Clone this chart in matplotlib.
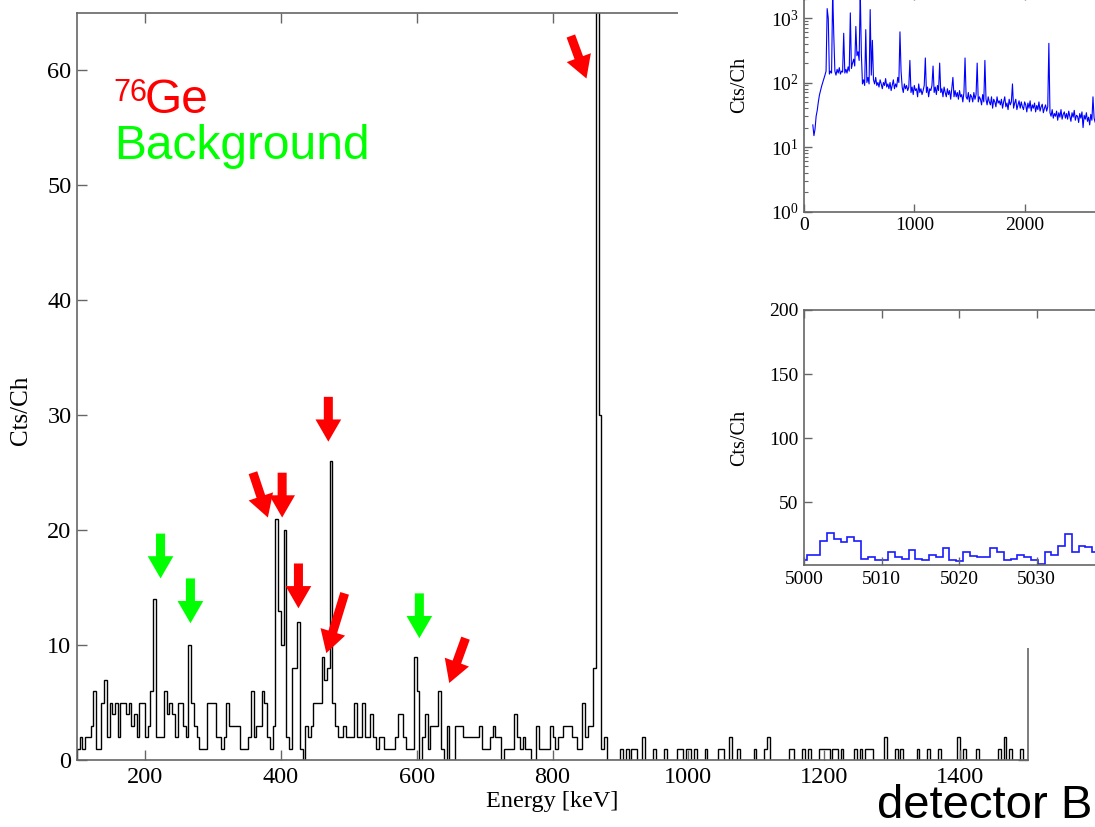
import numpy as np
import matplotlib
matplotlib.use('Agg')
import matplotlib.pyplot as plt
from matplotlib.patches import Rectangle
from matplotlib.ticker import LogLocator, NullFormatter

plt.rcParams['font.family'] = ['Liberation Serif', 'DejaVu Serif']
plt.rcParams['mathtext.fontset'] = 'custom'
plt.rcParams['mathtext.rm'] = 'Liberation Serif'
plt.rcParams['mathtext.it'] = 'Liberation Serif:italic'
plt.rcParams['mathtext.bf'] = 'Liberation Serif:bold'

# ---------------- data ----------------
# main spectrum: 4 keV bins from 100 to 900 keV
main_bin_start = 100
main_bin_width = 4
main_counts_low = [
    1, 2, 1, 2, 2, 3, 6, 1, 1, 5,
    7, 2, 5, 4, 5, 2, 5, 5, 4, 5,
    3, 4, 2, 5, 5, 2, 3, 6, 14, 2,
    2, 2, 6, 4, 5, 4, 2, 5, 5, 3,
    2, 10, 5, 3, 2, 1, 1, 1, 5, 5,
    5, 2, 2, 1, 2, 5, 3, 3, 3, 3,
    1, 1, 1, 2, 6, 2, 3, 3, 6, 5,
    2, 1, 3, 21, 13, 10, 20, 2, 1, 8,
    8, 12, 1, 0, 3, 2, 3, 5, 5, 5,
    9, 7, 8, 26, 5, 3, 2, 2, 3, 2,
    2, 2, 5, 2, 2, 5, 2, 2, 4, 2,
    1, 2, 2, 1, 1, 1, 1, 2, 4, 4,
    2, 1, 1, 1, 9, 6, 0, 2, 4, 1,
    3, 3, 3, 6, 1, 0, 3, 0, 0, 3,
    3, 3, 2, 2, 2, 2, 2, 2, 3, 1,
    1, 1, 2, 3, 2, 2, 0, 1, 1, 1,
    1, 4, 2, 1, 2, 1, 1, 0, 0, 3,
    1, 1, 1, 1, 3, 2, 1, 2, 2, 3,
    3, 3, 2, 2, 1, 1, 5, 2, 3, 3,
    8, 80, 30, 1, 2, 0, 0, 0, 0, 0,
]
# sparse part above 900 keV (bin start energy, counts)
hi_energy = [900, 908, 916, 920, 932, 948, 964, 984, 988, 996, 1000, 1008, 1024,
             1044, 1048, 1060, 1072, 1096, 1112, 1116, 1148, 1152, 1168, 1176,
             1192, 1196, 1200, 1204, 1212, 1216, 1224, 1244, 1252, 1260, 1264,
             1268, 1288, 1304, 1312, 1336, 1352, 1368, 1396, 1404, 1424, 1456,
             1464, 1472, 1488]
hi_counts = [1, 1, 1, 1, 2, 1, 1, 1, 1, 1, 1, 1, 1,
             1, 1, 2, 1, 1, 1, 2, 1, 1, 1, 1,
             1, 1, 1, 1, 1, 1, 1, 1, 1, 1, 1,
             1, 2, 1, 1, 1, 1, 1, 2, 1, 1, 1,
             2, 1, 1]
main_end = 1500

x_ticks_main = [200, 400, 600, 800, 1000, 1200, 1400]
y_ticks_main = [0, 10, 20, 30, 40, 50, 60]

# arrows: (tail E, tail counts, tip E, tip counts)
red_arrows = [
    (359, 25.0, 381, 21.1),
    (402, 25.0, 402, 21.1),
    (426, 17.1, 426, 13.2),
    (470, 31.6, 470, 27.7),
    (494, 14.5, 467, 9.3),
    (672, 10.6, 648, 6.7),
    (827, 63.0, 850, 59.3),
]
green_arrows = [
    (223, 19.7, 223, 15.8),
    (267, 15.8, 267, 11.9),
    (604, 14.5, 604, 10.6),
]

# inset 1: full spectrum, 10 keV channels from 80 keV
full_start = 80
full_width = 10
full_counts = [
    22, 15, 19, 30, 37, 50, 64, 75, 88, 100,
    115, 130, 150, 1400, 990, 135, 150, 140, 2600, 540,
    150, 130, 160, 140, 170, 135, 150, 145, 580, 140,
    160, 140, 175, 150, 1200, 165, 200, 230, 180, 740,
    260, 300, 220, 2600, 280, 95, 110, 90, 660, 100,
    120, 95, 1350, 130, 450, 110, 95, 120, 90, 100,
    85, 110, 95, 80, 100, 90, 115, 85, 95, 80,
    100, 75, 90, 110, 80, 95, 85, 120, 100, 610,
    150, 85, 70, 95, 80, 90, 75, 85, 220, 70,
    85, 65, 90, 75, 80, 60, 95, 70, 80, 65,
    75, 90, 240, 70, 85, 60, 80, 75, 90, 180,
    70, 85, 65, 90, 75, 200, 70, 80, 60, 85,
    70, 60, 80, 65, 75, 55, 80, 120, 60, 75,
    60, 70, 55, 75, 60, 65, 50, 70, 240, 60,
    55, 70, 50, 65, 60, 50, 70, 55, 65, 200,
    50, 60, 55, 45, 65, 50, 220, 55, 45, 60,
    50, 45, 60, 40, 55, 50, 42, 60, 48, 52,
    45, 55, 40, 50, 60, 42, 48, 38, 55, 45,
    50, 95, 40, 48, 55, 38, 45, 52, 40, 50,
    42, 38, 50, 45, 35, 48, 40, 52, 36, 45,
    40, 48, 35, 44, 38, 50, 36, 42, 46, 34,
    40, 45, 36, 42, 405, 34, 30, 38, 28, 33,
    30, 36, 26, 34, 29, 38, 27, 32, 35, 28,
    33, 27, 36, 30, 25, 34, 29, 37, 26, 31,
    30, 24, 33, 28, 35, 20, 31, 27, 34, 25,
    29, 22, 32, 26, 60, 28, 24, 30, 20, 27,
    25, 29, 22,
]

# inset 2: high-energy region, channel width ~0.876 keV
roi_start = 4999.46
roi_width = 0.876
roi_counts = [5, 9, 9, 20, 26, 21, 19, 23, 20, 6, 7, 5, 5, 11, 7, 6, 13, 6, 5, 9,
              7, 14, 5, 4, 11, 8, 7, 7, 14, 11, 5, 6, 9, 7, 5, 2, 11, 9, 16, 25,
              11, 16, 15, 11, 12, 9, 13]

# ---------------- figure ----------------
W, H = 1095, 827
fig = plt.figure(figsize=(W / 100, H / 100), dpi=100)


def fx(px):
    return px / W


def fy(py):
    return 1 - py / H


spine_col = '#666666'

# main axes
ax = fig.add_axes([fx(77), fy(760), fx(1028) - fx(77), fy(13) - fy(760)], zorder=0)
n_hi = int((main_end - main_bin_start) / main_bin_width)
counts = np.zeros(n_hi)
counts[:len(main_counts_low)] = main_counts_low
for e, c in zip(hi_energy, hi_counts):
    counts[int((e - main_bin_start) / main_bin_width)] = c
edges = main_bin_start + main_bin_width * np.arange(n_hi + 1)
ax.stairs(counts, edges, color='black', lw=1.0, baseline=0)
ax.set_xlim(100, 1500)
ax.set_ylim(0, 65)
ax.set_xticks(x_ticks_main)
ax.set_yticks(y_ticks_main)
ax.tick_params(direction='in', length=7, width=1, color=spine_col, top=True,
               right=True, labelsize=17.5)
ax.tick_params(axis='x', pad=5)
ax.tick_params(axis='y', pad=4)
for s in ax.spines.values():
    s.set_color(spine_col)
    s.set_linewidth(1.2)
ax.set_xlabel('Energy [keV]', fontsize=17.5, labelpad=2)
ax.set_ylabel('Cts/Ch', fontsize=18)
ax.yaxis.set_label_coords((32 - 77) / 951, (760 - 410) / 747)

arrow_style = 'simple,head_length=1.6,head_width=1.85,tail_width=0.65'
for (e0, c0, e1, c1) in red_arrows:
    ax.annotate('', xy=(e1, c1), xytext=(e0, c0),
                arrowprops=dict(arrowstyle=arrow_style, mutation_scale=10,
                                color='#ff0000', shrinkA=0, shrinkB=0, lw=0))
for (e0, c0, e1, c1) in green_arrows:
    ax.annotate('', xy=(e1, c1), xytext=(e0, c0),
                arrowprops=dict(arrowstyle=arrow_style, mutation_scale=10,
                                color='#00ff00', shrinkA=0, shrinkB=0, lw=0))

# white area behind insets
fig.add_artist(Rectangle((fx(678), fy(648)), 1 - fx(678), 1 - fy(648) + 0.01,
                         transform=fig.transFigure, facecolor='white',
                         edgecolor='none', zorder=1))

# inset 1 (log)
ax1 = fig.add_axes([fx(804), fy(211.5), 3000 * 0.1103 / W, (211.5 + 7.8) / H], zorder=3)
full_E = full_start + full_width * np.arange(len(full_counts))
ax1.plot(full_E, full_counts, color='#0000ff', lw=0.8)
ax1.set_yscale('log')
ax1.set_xlim(0, 3000)
ax1.set_ylim(1, 10 ** 3.4)
ax1.set_xticks([0, 1000, 2000])
ax1.yaxis.set_major_locator(LogLocator(base=10, numticks=10))
ax1.yaxis.set_minor_locator(LogLocator(base=10, subs=np.arange(2, 10), numticks=20))
ax1.yaxis.set_minor_formatter(NullFormatter())
ax1.tick_params(direction='in', length=6, width=1, color=spine_col, top=True,
                right=True, labelsize=14, pad=4)
ax1.tick_params(which='minor', direction='in', length=3, width=0.8, color=spine_col,
                right=True)
for s in ax1.spines.values():
    s.set_color(spine_col)
    s.set_linewidth(1.2)
ax1.set_ylabel('Cts/Ch', fontsize=14.5)
ax1.yaxis.set_label_coords((749 - 804) / 331, (211.5 - 85) / 219.3)

# inset 2 (linear)
ax2 = fig.add_axes([fx(804), fy(565), 50 * 7.76 / W, (565 - 310) / H], zorder=3)
roi_edges = roi_start + roi_width * np.arange(len(roi_counts) + 1)
ax2.stairs(roi_counts, roi_edges, color='#1a1aff', lw=1.2, baseline=None)
ax2.set_xlim(5000, 5050)
ax2.set_ylim(1, 200)
ax2.set_xticks([5000, 5010, 5020, 5030])
ax2.set_yticks([50, 100, 150, 200])
ax2.tick_params(direction='in', length=6, width=1, color=spine_col, top=True,
                right=True, labelsize=14, pad=4)
for s in ax2.spines.values():
    s.set_color(spine_col)
    s.set_linewidth(1.2)
ax2.set_ylabel('Cts/Ch', fontsize=14.5)
ax2.yaxis.set_label_coords((749 - 804) / 388, (565 - 438) / 255)

# annotations
sans = ['Liberation Sans', 'DejaVu Sans']
fig.text(fx(113), fy(101), '76', fontsize=22, family=sans, color='#ff0000',
         va='baseline', ha='left')
fig.text(fx(145), fy(113), 'Ge', fontsize=34.5, family=sans, color='#ff0000',
         va='baseline', ha='left')
fig.text(fx(114), fy(159), 'Background', fontsize=34.5, family=sans, color='#00ff00',
         va='baseline', ha='left')
fig.text(fx(1092), fy(818), 'detector B', fontsize=34, family=sans, color='black',
         va='baseline', ha='right', zorder=5)

fig.savefig('out.png', dpi=100)
